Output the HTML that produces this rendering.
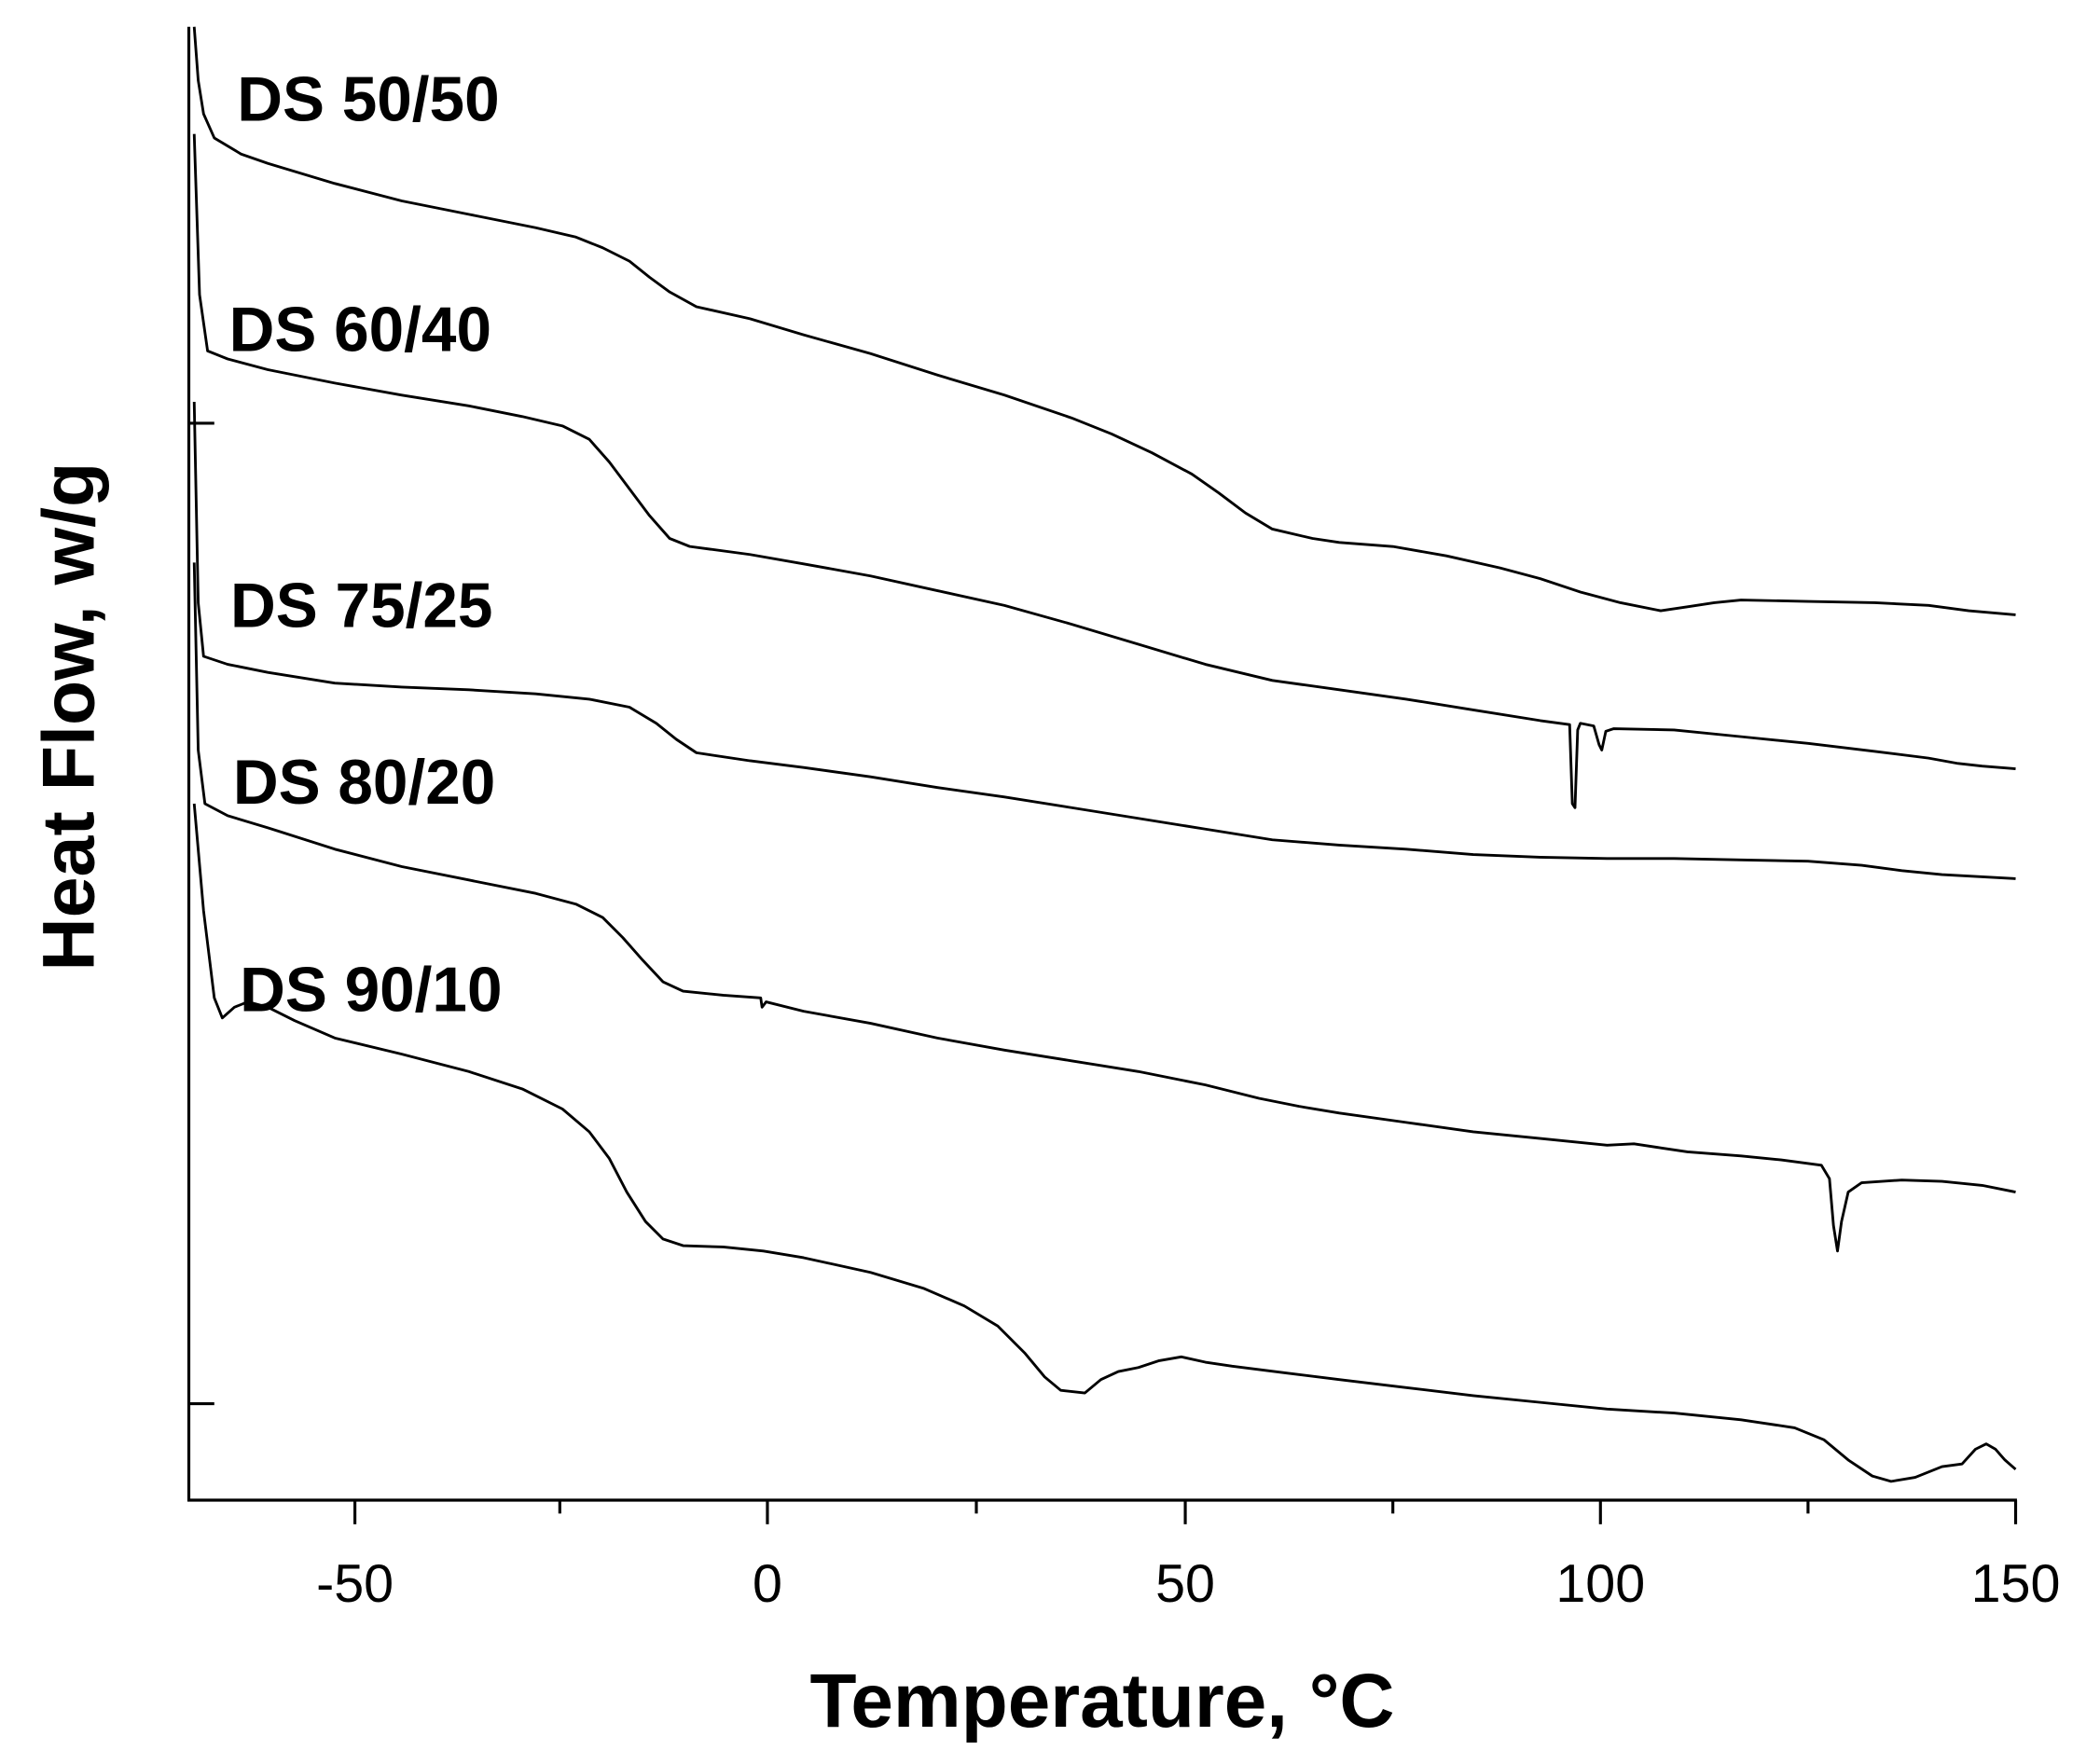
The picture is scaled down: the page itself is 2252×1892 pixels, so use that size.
<!DOCTYPE html>
<html><head><meta charset="utf-8"><style>
html,body{margin:0;padding:0;background:#fff;}
svg{display:block;}
text{font-family:"Liberation Sans",Arial,sans-serif;fill:#000;}
.lab{font-weight:bold;font-size:47px;}
.tk{font-size:40px;}
</style></head><body>
<svg width="2252" height="1892" viewBox="0 0 1568 1317" preserveAspectRatio="none" xmlns="http://www.w3.org/2000/svg">
<rect width="1568" height="1317" fill="#fff"/>
<g stroke="#000" stroke-width="2.2" fill="none">
<line x1="141" y1="20" x2="141" y2="1121"/>
<line x1="140" y1="1120" x2="1506" y2="1120"/>
<line x1="141" y1="316" x2="160" y2="316"/>
<line x1="141" y1="1048" x2="160" y2="1048"/>
<line x1="265" y1="1120" x2="265" y2="1138"/>
<line x1="573" y1="1120" x2="573" y2="1138"/>
<line x1="885" y1="1120" x2="885" y2="1138"/>
<line x1="1195" y1="1120" x2="1195" y2="1138"/>
<line x1="1505" y1="1120" x2="1505" y2="1138"/>
<line x1="418" y1="1120" x2="418" y2="1130"/>
<line x1="729" y1="1120" x2="729" y2="1130"/>
<line x1="1040" y1="1120" x2="1040" y2="1130"/>
<line x1="1350" y1="1120" x2="1350" y2="1130"/>
</g>
<g stroke="#000" stroke-width="2" fill="none" stroke-linejoin="round">
<polyline points="145,20 148,60 152,85 160,103 180,115 200,122 250,137 300,150 350,160 400,170 430,177 450,185 470,195 485,207 500,218 520,229 560,238 600,250 650,264 700,280 750,295 800,312 830,324 860,338 890,354 910,368 930,383 950,395 980,402 1000,405 1040,408 1080,415 1120,424 1150,432 1180,442 1210,450 1240,456 1260,453 1280,450 1300,448 1350,449 1400,450 1440,452 1470,456 1505,459"/>
<polyline points="145,100 149,220 155,262 170,268 200,276 250,286 300,295 350,303 390,311 420,318 440,328 455,345 470,365 485,385 500,402 515,408 560,414 600,421 650,430 700,441 750,452 800,466 850,481 900,496 950,508 1000,515 1050,522 1100,530 1150,538 1172,541 1174,600 1176,603 1178,545 1180,540 1190,542 1194,556 1196,560 1199,546 1205,544 1250,545 1300,550 1350,555 1400,561 1440,566 1462,570 1480,572 1505,574"/>
<polyline points="145,300 148,450 152,490 170,496 200,502 250,510 300,513 350,515 400,518 440,522 470,528 490,540 505,552 520,562 560,568 600,573 650,580 700,588 750,595 800,603 850,611 900,619 950,627 1000,631 1050,634 1100,638 1150,640 1200,641 1250,641 1300,642 1350,643 1390,646 1420,650 1450,653 1505,656"/>
<polyline points="145,420 148,560 153,600 170,609 200,618 250,634 300,647 350,657 400,667 430,675 450,685 465,700 480,717 495,733 510,740 540,743 568,745 569,752 572,748 600,755 650,764 700,775 750,784 800,792 850,800 900,810 940,820 970,826 1000,831 1050,838 1100,845 1150,850 1200,855 1220,854 1240,857 1260,860 1300,863 1330,866 1360,870 1366,880 1369,915 1372,934 1375,912 1380,890 1390,883 1420,881 1450,882 1480,885 1505,890"/>
<polyline points="145,600 152,680 160,745 166,760 175,752 185,748 200,752 220,762 250,775 300,787 350,800 390,813 420,828 440,845 455,865 468,890 482,912 495,925 510,930 540,931 570,934 600,939 650,950 690,962 720,975 745,990 765,1010 780,1028 792,1038 810,1040 822,1030 835,1024 850,1021 865,1016 882,1013 900,1017 920,1020 960,1025 1000,1030 1050,1036 1100,1042 1150,1047 1200,1052 1250,1055 1300,1060 1340,1066 1362,1075 1380,1090 1398,1102 1412,1106 1430,1103 1450,1095 1465,1093 1475,1082 1483,1078 1490,1082 1497,1090 1505,1097"/>
</g>
<text class="lab" x="177" y="90">DS 50/50</text>
<text class="lab" x="171" y="262">DS 60/40</text>
<text class="lab" x="172" y="468">DS 75/25</text>
<text class="lab" x="174" y="600">DS 80/20</text>
<text class="lab" x="179" y="755">DS 90/10</text>
<text class="tk" x="265" y="1196" text-anchor="middle">-50</text>
<text class="tk" x="573" y="1196" text-anchor="middle">0</text>
<text class="tk" x="885" y="1196" text-anchor="middle">50</text>
<text class="tk" x="1195" y="1196" text-anchor="middle">100</text>
<text class="tk" x="1505" y="1196" text-anchor="middle">150</text>
<text x="823" y="1289" text-anchor="middle" style="font-weight:bold;font-size:57px;">Temperature, °C</text>
<text transform="translate(70,535) rotate(-90)" text-anchor="middle" style="font-weight:bold;font-size:55px;">Heat Flow, w/g</text>
</svg>
</body></html>
